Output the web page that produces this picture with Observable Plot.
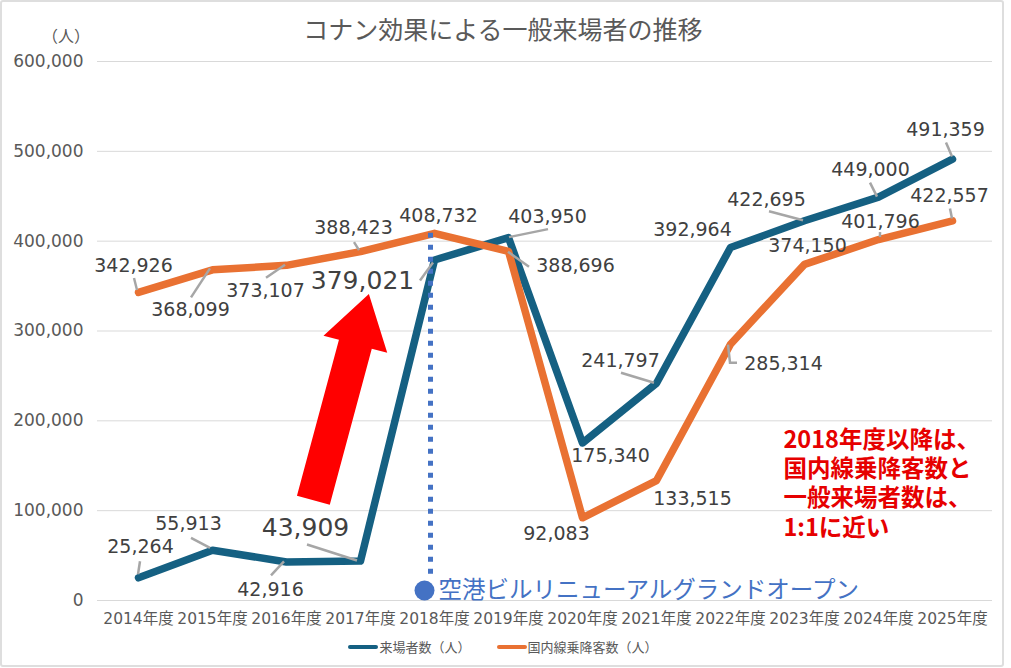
<!DOCTYPE html>
<html>
<head>
<meta charset="utf-8">
<script src="https://cdn.jsdelivr.net/npm/d3@7"></script>
<script src="https://cdn.jsdelivr.net/npm/@observablehq/plot@0.6"></script>
<style>
  html, body { margin: 0; padding: 0; background: #fff; }
  #wrap { position: relative; width: 1011px; height: 668px; overflow: hidden; background: #fff; }
  #frame { position: absolute; left: 0; top: 0; width: 1004px; height: 667px; box-sizing: border-box;
           border: 2px solid #dedede; border-radius: 3px; pointer-events: none; }
  #title { position: absolute; left: 0; width: 1006px; top: 13px; text-align: center;
           font-family: "Noto Sans CJK JP", sans-serif; font-size: 25px; line-height: 30px; color: #595959; }
  #unit { position: absolute; left: 42px; top: 24px; font-family: "Noto Sans CJK JP", sans-serif;
          font-size: 16px; line-height: 22px; color: #595959; }
  #chart { position: absolute; left: 0; top: 42px; }
  #legend { position: absolute; left: 0; top: 625px; width: 1006px; height: 43px; display: flex;
            justify-content: center; align-items: center; gap: 26px;
            font-family: "Noto Sans CJK JP", sans-serif; font-size: 13px; color: #595959; }
  .item { display: flex; align-items: center; }
  .sw { display: inline-block; width: 30px; height: 4px; border-radius: 2px; margin-right: 1px; }
</style>
</head>
<body>
<div id="wrap">
  <div id="title"></div>
  <div id="unit"></div>
  <div id="chart"></div>
  <div id="legend"></div>
  <div id="frame"></div>
</div>
<script>
// ---- data ----
const titleText = "コナン効果による一般来場者の推移";
const unitLabel = "（人）";
const years = ["2014年度", "2015年度", "2016年度", "2017年度", "2018年度", "2019年度",
               "2020年度", "2021年度", "2022年度", "2023年度", "2024年度", "2025年度"];
const visitors = [25264, 55913, 42916, 43909, 379021, 403950, 175340, 241797, 392964, 422695, 449000, 491359];
const domesticPassengers = [342926, 368099, 373107, 388423, 408732, 388696, 92083, 133515, 285314, 374150, 401796, 422557];
const seriesNames = ["来場者数（人）", "国内線乗降客数（人）"];
const yTicks = [0, 100000, 200000, 300000, 400000, 500000, 600000];
const renewalYear = "2018年度";
const renewalText = "空港ビルリニューアルグランドオープン";
const noteYear = "2023年度";
const noteLines = ["2018年度以降は、", "国内線乗降客数と", "一般来場者数は、", "1:1に近い"];

// ---- styles / annotation layout (pixels) ----
const colors = ["#156082", "#E97132"];
const labelColor = "#404040";
const leaderColor = "#a6a6a6";
const numFont = "'DejaVu Sans', 'Noto Sans CJK JP', sans-serif";
const cjkFont = "'Noto Sans CJK JP', sans-serif";
const bigLabels = [[3, 4], []]; // indices with large labels per series
const labelOffsets = [
  [[2,-31],[-24,-26],[-16,28],[-55,-33],[-72,21],[39,-21],[28,13],[-36,-22],[-38,-18],[-38,-21],[-8,-27],[-7,-29]],
  [[-5,-27],[-22,40],[-21,26],[-7,-24],[4,-17],[67,15],[-26,16],[36,18],[53,20],[3,-18],[2,-18],[-3,-25]]
];
const leaderOffsets = [
  [[0,-3,2,-16],[-2,-2,-21,-12],[-2,0,-15,14],[-3,0,-53,-16],[-1,3,-14,21],[1,0,40,-8],null,[-2,0,-35,-10],null,[-1,0,-35,-9],[-1,0,-8,-14],[0,-2,-6,-16]],
  [[-1,-2,-4,-14],[-2,-1,-21,28],[-1,0,-20,13],[-1,-1,-6,-9],null,[0,1,21,16],null,null,[-2,1,0,19,7,19],null,[2,-7,2,-2],[-2,-12,0,-2]]
];
// red arrow: tail and tip in chart units (category index position, value)
const arrowTail = {pos: 2.37, value: 111000};
const arrowTip = {pos: 3.12, value: 340600};
const renewalLineBottom = 26000;
const renewalDotValue = 11100;
const noteValue = 131500;

// ---- build ----
document.getElementById("title").textContent = titleText;
document.getElementById("unit").textContent = unitLabel;

const series = [visitors, domesticPassengers].map((vals, s) =>
  years.map((year, i) => ({year, value: vals[i], s, i})));

const fmt = d3.format(",");

function leaderMark(data, offsets) {
  return (index, scales) => {
    const g = d3.create("svg:g").attr("fill", "none").attr("stroke", leaderColor)
      .attr("stroke-width", 2.5);
    data.forEach((d, i) => {
      const o = offsets[i];
      if (!o) return;
      const px = scales.x(d.year), py = scales.y(d.value);
      const pts = [];
      for (let k = 0; k < o.length; k += 2) pts.push([px + o[k], py + o[k + 1]]);
      g.append("path").attr("d", d3.line()(pts));
    });
    return g.node();
  };
}

function arrowMark() {
  return (index, scales) => {
    const x0 = scales.x(years[0]), step = scales.x(years[1]) - x0;
    const T = [x0 + arrowTail.pos * step, scales.y(arrowTail.value)];
    const H = [x0 + arrowTip.pos * step, scales.y(arrowTip.value)];
    const len = Math.hypot(H[0] - T[0], H[1] - T[1]);
    const u = [(H[0] - T[0]) / len, (H[1] - T[1]) / len];
    const n = [-u[1], u[0]];
    const shaft = 17, head = 33, headLen = 52;
    const B = [H[0] - u[0] * headLen, H[1] - u[1] * headLen];
    const P = (p, k) => [p[0] + n[0] * k, p[1] + n[1] * k];
    const pts = [P(T, -shaft), P(B, -shaft), P(B, -head), H, P(B, head), P(B, shaft), P(T, shaft)];
    return d3.create("svg:path").attr("d", d3.line()(pts) + "Z").attr("fill", "#ff0000").node();
  };
}

const labelMarks = [];
series.forEach((data, s) => {
  data.forEach((d, i) => {
    const big = bigLabels[s].includes(i);
    labelMarks.push(Plot.text([d], {
      x: "year", y: "value", text: (d) => fmt(d.value),
      dx: labelOffsets[s][i][0], dy: labelOffsets[s][i][1],
      fontSize: big ? 25 : 19, fill: labelColor, fontFamily: numFont
    }));
  });
});

const chart = Plot.plot({
  width: 1011,
  height: 583,
  marginTop: 19,
  marginBottom: 25,
  marginLeft: 97,
  marginRight: 19,
  style: {fontFamily: numFont, color: "#595959", background: "transparent", overflow: "visible"},
  x: {type: "point", domain: years, padding: 0.5},
  y: {domain: [0, 600000]},
  marks: [
    Plot.gridY(yTicks, {stroke: "#d9d9d9", strokeOpacity: 1, strokeWidth: 1}),
    Plot.axisY(yTicks, {tickSize: 0, tickPadding: 14, tickFormat: fmt, fontSize: 17, label: null, fill: "#595959"}),
    Plot.axisX({tickSize: 0, tickPadding: 12, fontSize: 15.5, label: null, fill: "#595959"}),
    Plot.line(series[0], {x: "year", y: "value", stroke: colors[0], strokeWidth: 7.5,
      strokeLinejoin: "round", strokeLinecap: "round"}),
    Plot.line(series[1], {x: "year", y: "value", stroke: colors[1], strokeWidth: 7.5,
      strokeLinejoin: "round", strokeLinecap: "round"}),
    Plot.ruleX([renewalYear], {x: (d) => d, y1: domesticPassengers[years.indexOf(renewalYear)],
      y2: renewalLineBottom, dx: -4, stroke: "#4472C4", strokeWidth: 5, strokeDasharray: "5,7"}),
    Plot.dot([renewalYear], {x: (d) => d, y: renewalDotValue, dx: -10, r: 10, fill: "#4472C4", stroke: "none"}),
    Plot.text([renewalYear], {x: (d) => d, y: renewalDotValue, text: () => renewalText, dx: 4,
      textAnchor: "start", fontSize: 23.5, fill: "#4472C4", fontFamily: cjkFont}),
    arrowMark(),
    leaderMark(series[0], leaderOffsets[0]),
    leaderMark(series[1], leaderOffsets[1]),
    ...labelMarks,
    Plot.text([noteYear], {x: (d) => d, y: noteValue, text: () => noteLines.join("\n"), dx: -21,
      textAnchor: "start", lineHeight: 1.25, fontSize: 23.5, fontWeight: "bold", fill: "#e60000",
      fontFamily: cjkFont})
  ]
});
document.getElementById("chart").appendChild(chart);

// legend
const legend = document.getElementById("legend");
seriesNames.forEach((name, s) => {
  const item = document.createElement("div");
  item.className = "item";
  const sw = document.createElement("span");
  sw.className = "sw";
  sw.style.background = colors[s];
  const t = document.createElement("span");
  t.textContent = name;
  item.appendChild(sw);
  item.appendChild(t);
  legend.appendChild(item);
});
</script>
</body>
</html>
